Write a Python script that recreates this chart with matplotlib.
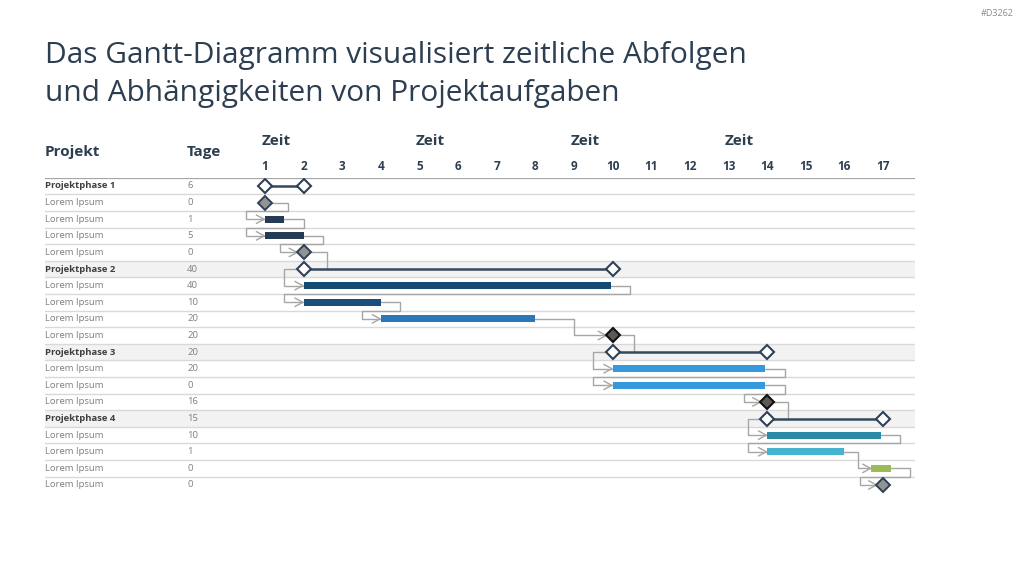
import matplotlib
matplotlib.use("Agg")
import matplotlib.pyplot as plt
from matplotlib.transforms import blended_transform_factory

plt.rcParams['font.family'] = ['Open Sans', 'DejaVu Sans']

# ---- data ----
title_lines = ["Das Gantt-Diagramm visualisiert zeitliche Abfolgen",
               "und Abhängigkeiten von Projektaufgaben"]
names = ["Projektphase 1", "Lorem Ipsum", "Lorem Ipsum", "Lorem Ipsum", "Lorem Ipsum",
         "Projektphase 2", "Lorem Ipsum", "Lorem Ipsum", "Lorem Ipsum", "Lorem Ipsum",
         "Projektphase 3", "Lorem Ipsum", "Lorem Ipsum", "Lorem Ipsum",
         "Projektphase 4", "Lorem Ipsum", "Lorem Ipsum", "Lorem Ipsum", "Lorem Ipsum"]
tage = [6, 0, 1, 5, 0, 40, 40, 10, 20, 20, 20, 20, 0, 16, 15, 10, 1, 0, 0]
kinds = ["phase", "ms", "bar", "bar", "ms",
         "phase", "bar", "bar", "bar", "ms2",
         "phase", "bar", "bar", "ms2",
         "phase", "bar", "bar", "bar", "ms"]
starts = [1, 1, 1, 1, 2, 2, 2, 2, 4, 10, 10, 10, 10, 14, 14, 14, 14, 16.7, 17]
ends = [2, 1, 1.5, 2, 2, 10, 9.95, 4, 8, 9.95, 14, 13.95, 13.95, 13.95, 17, 16.95, 16, 17.2, 16.95]
bar_colors = {2: "#253a54", 3: "#253a54", 6: "#154a73", 7: "#1a4f7d", 8: "#2b78b8",
              11: "#3599db", 12: "#3599db", 15: "#2b8aa5", 16: "#46b3d1", 17: "#9bbb59"}
links = [(1, 2, "loop"), (2, 3, "loop"), (3, 4, "loop"), (4, 5, "drop"),
         (5, 6, "phase"), (6, 7, "loop"), (7, 8, "loop"), (8, 9, "elbow"), (9, 10, "drop"),
         (10, 11, "phase"), (11, 12, "loop"), (12, 13, "loop"), (13, 14, "drop"),
         (14, 15, "phase"), (15, 16, "loop"), (16, 17, "elbow"), (17, 18, "loop")]
time_ticks = list(range(1, 18))
zeit_at = [1, 5, 9, 13]

W, H = 1024, 576
fig = plt.figure(figsize=(W / 100, H / 100), dpi=100)
fig.patch.set_facecolor("white")

# axes: x = time, y = row
x_left, x_right = 45, 915
t_px = 38.625
row_px = 16.61
y0 = 186 - row_px / 2
y1 = 186 + 18.5 * row_px
ax = fig.add_axes([x_left / W, 1 - y1 / H, (x_right - x_left) / W, (y1 - y0) / H])
ax.set_xlim(1 - (265 - x_left) / t_px, 1 + (x_right - 265) / t_px)
ax.set_ylim(18.5, -0.5)
ax.axis("off")

n = len(names)
dark = "#2d3e50"
conn = "#a6a6a6"

# table background / lines
for r in range(n):
    if kinds[r] == "phase" and r > 0:
        ax.axhspan(r - 0.5, r + 0.5, color="#f2f2f2", lw=0, zorder=0)
for r in range(n - 1):
    ax.axhline(r + 0.5, color="#d9d9d9", lw=1, zorder=1)
ax.axhline(-0.5, color="#a6a6a6", lw=1.6, zorder=1)

# connectors
def chevron(tip, y):
    ax.plot([tip - 0.2, tip, tip - 0.2], [y - 0.25, y, y + 0.25], color=conn, lw=1, zorder=2)

for a, b, kind in links:
    ms_src = kinds[a].startswith("ms")
    ms_dst = kinds[b].startswith("ms")
    tip = starts[b] - (0.17 if ms_dst else 0.02)
    if kind == "loop":
        xr = ends[a] + (0.6 if ms_src else 0.5)
        xb = starts[b] - (0.6 if ms_dst else 0.5)
        ax.plot([ends[a], xr, xr, xb, xb, tip], [a, a, a + 0.5, a + 0.5, b, b],
                color=conn, lw=1, zorder=2)
        chevron(tip, b)
    elif kind == "elbow":
        xm = (ends[a] + starts[b]) / 2
        ax.plot([ends[a], xm, xm, tip], [a, a, b, b], color=conn, lw=1, zorder=2)
        chevron(tip, b)
    elif kind == "drop":
        xr = ends[a] + 0.6
        ax.plot([ends[a], xr, xr], [a, a, b], color=conn, lw=1, zorder=2)
    elif kind == "phase":
        xb = starts[a] - 0.5
        ax.plot([starts[a], xb, xb, tip], [a, a, b, b], color=conn, lw=1, zorder=2)
        chevron(tip, b)

# tasks
for r in range(n):
    k = kinds[r]
    if k == "phase":
        ax.plot([starts[r], ends[r]], [r, r], color="#34495e", lw=1.8, zorder=3)
        ax.plot([starts[r], ends[r]], [r, r], ls="none", marker="D", ms=6.8,
                mfc="white", mec="#2e4057", mew=1.5, zorder=4)
    elif k == "bar":
        ax.barh(r, ends[r] - starts[r], left=starts[r], height=0.42,
                color=bar_colors[r], zorder=3)
    elif k == "ms":
        ax.plot([starts[r]], [r], marker="D", ms=6.8, mfc="#939393", mec="#2e4057",
                mew=1.4, zorder=4)
    else:
        ax.plot([starts[r]], [r], marker="D", ms=6.8, mfc="#5a5a5a", mec="#111111",
                mew=1.5, zorder=4)

# table text
tr = blended_transform_factory(fig.transFigure, ax.transData)
for r in range(n):
    bold = kinds[r] == "phase"
    ax.text(45 / W, r, names[r], transform=tr, va="center", ha="left", fontsize=6.8,
            fontweight="bold" if bold else "normal",
            color="#404040" if bold else "#7f7f7f", clip_on=False)
    ax.text(187 / W, r, str(tage[r]), transform=tr, va="center", ha="left",
            fontsize=6.8, color="#7f7f7f", clip_on=False)

ax.text(45 / W, -2.05, "Projekt", transform=tr, va="center", ha="left", fontsize=11,
        fontweight="bold", color=dark, clip_on=False)
ax.text(187 / W, -2.05, "Tage", transform=tr, va="center", ha="left", fontsize=11,
        fontweight="bold", color=dark, clip_on=False)
for t in zeit_at:
    ax.text(t - 0.1, -2.7, "Zeit", va="center", ha="left", fontsize=11,
            fontweight="bold", color=dark, clip_on=False)
for t in time_ticks:
    ax.text(t, -1.15, str(t), va="center", ha="center", fontsize=8.5,
            fontweight="bold", color=dark, clip_on=False)

# title
for i, line in enumerate(title_lines):
    fig.text(45 / W, 1 - (63 + 38 * i) / H, line, va="baseline", ha="left",
             fontsize=21.5, color=dark)
fig.text(1014 / W, 1 - 13 / H, "#D3262", ha="right", va="center", fontsize=6.5,
         color="#8c8c8c")

fig.savefig("out.png", dpi=100, facecolor="white")
